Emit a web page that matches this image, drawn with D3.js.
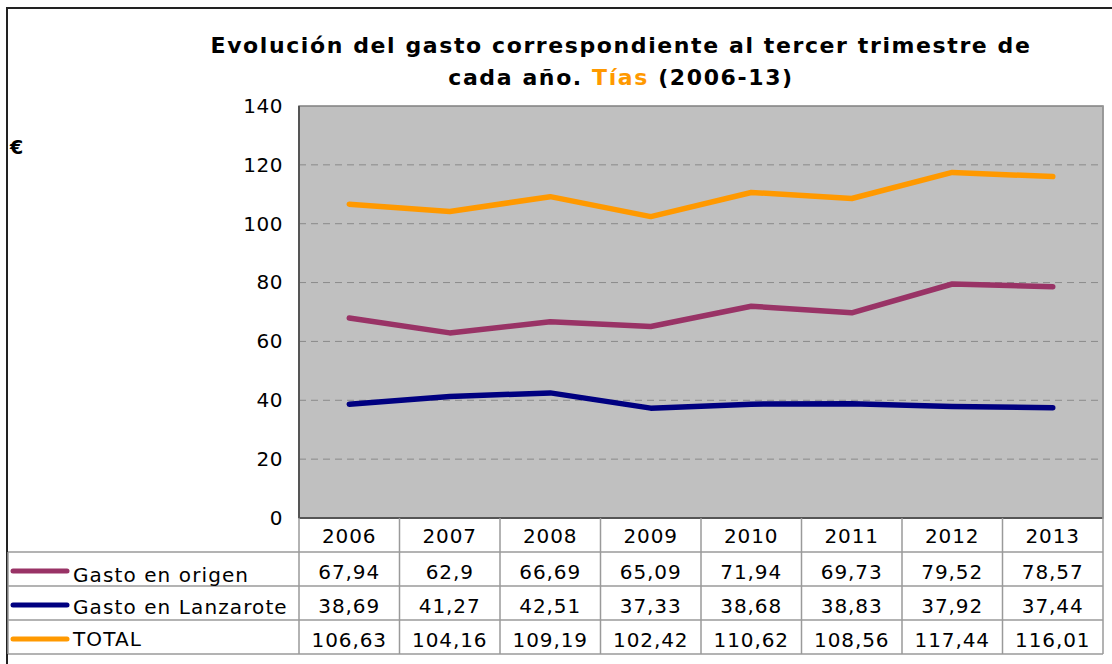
<!DOCTYPE html>
<html>
<head>
<meta charset="utf-8">
<script src="https://cdn.jsdelivr.net/npm/d3@7"></script>
<style>
  body { margin: 0; background: #fff; }
  svg { font-family: Verdana, "DejaVu Sans", sans-serif; }
</style>
</head>
<body>
<div id="chart"></div>
<script>
var years = ["2006", "2007", "2008", "2009", "2010", "2011", "2012", "2013"];
var seriesNames = ["Gasto en origen", "Gasto en Lanzarote", "TOTAL"];
var seriesColors = ["#993366", "#000080", "#FF9900"];
var origen = [67.94, 62.9, 66.69, 65.09, 71.94, 69.73, 79.52, 78.57];
var lanzarote = [38.69, 41.27, 42.51, 37.33, 38.68, 38.83, 37.92, 37.44];
var total = [106.63, 104.16, 109.19, 102.42, 110.62, 108.56, 117.44, 116.01];
var yTicks = [0, 20, 40, 60, 80, 100, 120, 140];

var width = 1112, height = 664;
var plot = { left: 299, right: 1103, top: 106, bottom: 518 };
var rowH = 34, tableLeft = 8;
var fontSize = 20, spacing = "0.9px";

var svg = d3.select("#chart").append("svg")
    .attr("width", width)
    .attr("height", height);

// outer border
svg.append("path")
    .attr("d", "M7," + height + " V8 H" + width)
    .attr("fill", "none")
    .attr("stroke", "#222")
    .attr("stroke-width", 2);

var x = d3.scaleBand().domain(years).range([plot.left, plot.right]);
var y = d3.scaleLinear().domain([0, 140]).range([plot.bottom, plot.top]);

// plot area
svg.append("rect")
    .attr("x", plot.left).attr("y", plot.top)
    .attr("width", plot.right - plot.left).attr("height", plot.bottom - plot.top)
    .attr("fill", "#C0C0C0")
    .attr("stroke", "#808080")
    .attr("stroke-width", 1.5);

// grid
svg.selectAll(".grid")
    .data(yTicks.filter(function(d) { return d > 0 && d < 140; }))
  .enter().append("line")
    .attr("class", "grid")
    .attr("x1", plot.left).attr("x2", plot.right)
    .attr("y1", function(d) { return y(d); })
    .attr("y2", function(d) { return y(d); })
    .attr("stroke", "#8a8a8a")
    .attr("stroke-width", 1)
    .attr("stroke-dasharray", "7,5");

svg.append("line")
    .attr("x1", plot.left).attr("x2", plot.right)
    .attr("y1", y(0)).attr("y2", y(0))
    .attr("stroke", "#555").attr("stroke-width", 2);
svg.append("line")
    .attr("x1", plot.left).attr("x2", plot.left)
    .attr("y1", plot.top).attr("y2", plot.bottom)
    .attr("stroke", "#555").attr("stroke-width", 2);

// y axis labels
var yAxis = d3.axisLeft(y).tickValues(yTicks).tickSize(0).tickPadding(16);
var gy = svg.append("g")
    .attr("transform", "translate(" + plot.left + ",0)")
    .call(yAxis);
gy.select(".domain").remove();
gy.selectAll("text")
    .attr("font-family", "Verdana, 'DejaVu Sans', sans-serif")
    .attr("font-size", fontSize)
    .attr("letter-spacing", "0.5px")
    .attr("fill", "#000");

svg.append("text")
    .attr("x", 10).attr("y", 154)
    .attr("font-size", 19).attr("font-weight", "bold")
    .text("€");

// title
var title = svg.append("text")
    .attr("text-anchor", "middle")
    .attr("font-size", 22)
    .attr("letter-spacing", "1.6px")
    .attr("font-weight", "bold");
title.append("tspan").attr("x", 621).attr("y", 53)
    .text("Evolución del gasto correspondiente al tercer trimestre de");
var t2 = title.append("tspan").attr("x", 621).attr("y", 85);
t2.append("tspan").text("cada año. ");
t2.append("tspan").attr("fill", "#FF9900").text("Tías");
t2.append("tspan").text(" (2006-13)");

// lines
var series = [origen, lanzarote, total];
var line = d3.line()
    .x(function(d, i) { return x(years[i]) + x.bandwidth() / 2; })
    .y(function(d) { return y(d); });

svg.selectAll(".series")
    .data(series)
  .enter().append("path")
    .attr("class", "series")
    .attr("d", line)
    .attr("fill", "none")
    .attr("stroke", function(d, i) { return seriesColors[i]; })
    .attr("stroke-width", 5.5)
    .attr("stroke-linecap", "round")
    .attr("stroke-linejoin", "round");

// data table
var tableColor = "#9a9a9a";
var tableBottom = plot.bottom + rowH * 4;
var table = svg.append("g");

d3.range(1, 5).forEach(function(r) {
    table.append("line")
        .attr("x1", tableLeft).attr("x2", plot.right)
        .attr("y1", plot.bottom + rowH * r).attr("y2", plot.bottom + rowH * r)
        .attr("stroke", tableColor).attr("stroke-width", 1.5);
});
years.forEach(function(yr) {
    table.append("line")
        .attr("x1", x(yr)).attr("x2", x(yr))
        .attr("y1", plot.bottom).attr("y2", tableBottom)
        .attr("stroke", tableColor).attr("stroke-width", 1.5);
});
table.append("line")
    .attr("x1", plot.right).attr("x2", plot.right)
    .attr("y1", plot.top).attr("y2", tableBottom)
    .attr("stroke", tableColor).attr("stroke-width", 1.5);
table.append("line")
    .attr("x1", tableLeft).attr("x2", tableLeft)
    .attr("y1", plot.bottom + rowH).attr("y2", tableBottom)
    .attr("stroke", tableColor).attr("stroke-width", 1.5);

// year headers
table.selectAll(".yr")
    .data(years)
  .enter().append("text")
    .attr("x", function(d) { return x(d) + x.bandwidth() / 2; })
    .attr("y", plot.bottom + 25)
    .attr("text-anchor", "middle")
    .attr("font-size", fontSize)
    .attr("letter-spacing", spacing)
    .text(function(d) { return d; });

var fmt = function(v) { return String(v).replace(".", ","); };
var labelShift = [30, 28, 26];

series.forEach(function(s, r) {
    var ry = plot.bottom + rowH * (r + 1);
    table.append("line")
        .attr("x1", 13).attr("x2", 67)
        .attr("y1", ry + rowH / 2 + 2).attr("y2", ry + rowH / 2 + 2)
        .attr("stroke", seriesColors[r])
        .attr("stroke-width", 5)
        .attr("stroke-linecap", "round");
    table.append("text")
        .attr("x", 73).attr("y", ry + labelShift[r])
        .attr("font-size", fontSize)
        .attr("letter-spacing", "1.1px")
        .text(seriesNames[r]);
    table.selectAll(".v" + r)
        .data(s)
      .enter().append("text")
        .attr("x", function(d, i) { return x(years[i]) + x.bandwidth() / 2; })
        .attr("y", ry + 27)
        .attr("text-anchor", "middle")
        .attr("font-size", fontSize)
        .attr("letter-spacing", spacing)
        .text(function(d) { return fmt(d); });
});
</script>
</body>
</html>
